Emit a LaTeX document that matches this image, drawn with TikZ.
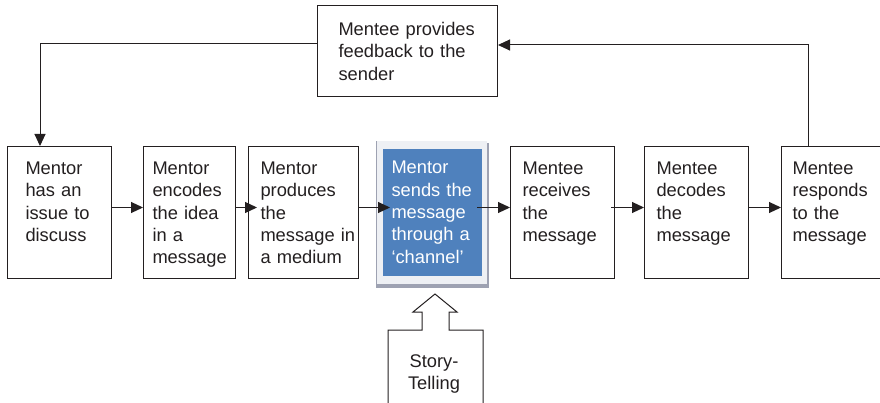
\documentclass[tikz,border=0pt]{standalone}
\usepackage{fontspec}
\setmainfont{Liberation Sans}
\usetikzlibrary{arrows.meta, positioning, backgrounds}
\definecolor{chanblue}{HTML}{4F81BD}
\definecolor{chanframe}{HTML}{EEF0F4}
\definecolor{chanshade}{HTML}{9EA2B2}
\definecolor{ink}{HTML}{231F20}

\begin{document}
\begin{tikzpicture}[x=1pt, y=-1pt, font=\fontsize{18.3}{22.3}\selectfont,
    line width=1pt, color=ink,
    stepbox/.style={draw, align=left, inner ysep=0pt,
        text height=28pt, text depth=104pt},
    flow/.style={-{Triangle[length=12pt,width=11pt]}}]

\useasboundingbox (0,0) rectangle (880,403);

\node[stepbox,
    anchor=north west,
    inner xsep=21pt, text width=138pt,
    text height=30pt, text depth=61pt
] (fb) at (317,5) {Mentee~provides\\feedback to the\\sender};

\node[stepbox,
    anchor=north west,
    inner xsep=18pt, text width=68pt
] (b1) at (7,146) {Mentor\\has an\\issue to\\discuss};

\node[stepbox,
    right=31pt of b1,
    inner xsep=9pt, text width=74pt
] (b2) {Mentor\\encodes\\the idea\\in a\\message};

\node[stepbox,
    right=12pt of b2,
    inner xsep=12pt, text width=86pt
] (b3) {Mentor\\produces\\the\\message~in\\a medium};

\node[stepbox,
    right=23pt of b3,
    draw=none, fill=chanblue, text=white,
    inner xsep=9pt, text width=81pt,
    text height=25pt, text depth=102pt
] (b4) {Mentor\\sends the\\message\\through a\\‘channel’};

\node[stepbox,
    right=28pt of b4,
    inner xsep=12pt, text width=80pt
] (b5) {Mentee\\receives\\the\\message};

\node[stepbox,
    right=29pt of b5,
    inner xsep=12pt, text width=80pt
] (b6) {Mentee\\decodes\\the\\message};

\node[stepbox,
    right=32pt of b6,
    inner xsep=11pt, text width=81pt
] (b7) {Mentee\\responds\\to the\\message};

% frame round the channel box
\begin{scope}[on background layer]
\fill[chanshade] ([shift={(-6pt,5pt)}]b4.north west) rectangle ([shift={(7pt,-11pt)}]b4.south east);
\fill[chanframe] ([shift={(-6pt,7pt)}]b4.north west) rectangle ([shift={(5pt,-7pt)}]b4.south east);
\draw[chanshade, line width=0.8pt] ([shift={(-6pt,7pt)}]b4.north west) -- ([shift={(-6pt,-7pt)}]b4.south west);
\end{scope}

% Arrows
\draw[flow] ([yshift=5pt]b1.east) -- ([yshift=5pt]b2.west);
\draw[flow, shorten >=-9pt] ([yshift=5pt]b2.east) -- ([yshift=5pt]b3.west);
\draw[flow, shorten >=-8pt] ([yshift=5pt]b3.east) -- ([yshift=5pt]b4.west);
\draw[flow, shorten <=-5pt] ([yshift=5pt]b4.east) -- ([yshift=5pt]b5.west);
\draw[flow, shorten <=-4pt] ([yshift=5pt]b5.east) -- ([yshift=5pt]b6.west);
\draw[flow] ([yshift=5pt]b6.east) -- ([yshift=5pt]b7.west);
\draw[flow] ([xshift=27pt]b7.north west) |- ([yshift=6pt]fb.east);
\draw[flow] ([yshift=7pt]fb.west) -| ([xshift=33pt]b1.north west);

% story-telling input
\node[anchor=north, inner sep=0pt, text width=60pt, align=center,
    text height=14pt] (story) at (434,353) {Story-\\Telling};
\draw (388,406) -- (388,330) -- (422,330) -- (422,312) -- (413,312) -- (435,294)
    -- (457,312) -- (449,312) -- (449,330) -- (483,330) -- (483,406);
\end{tikzpicture}
\end{document}
